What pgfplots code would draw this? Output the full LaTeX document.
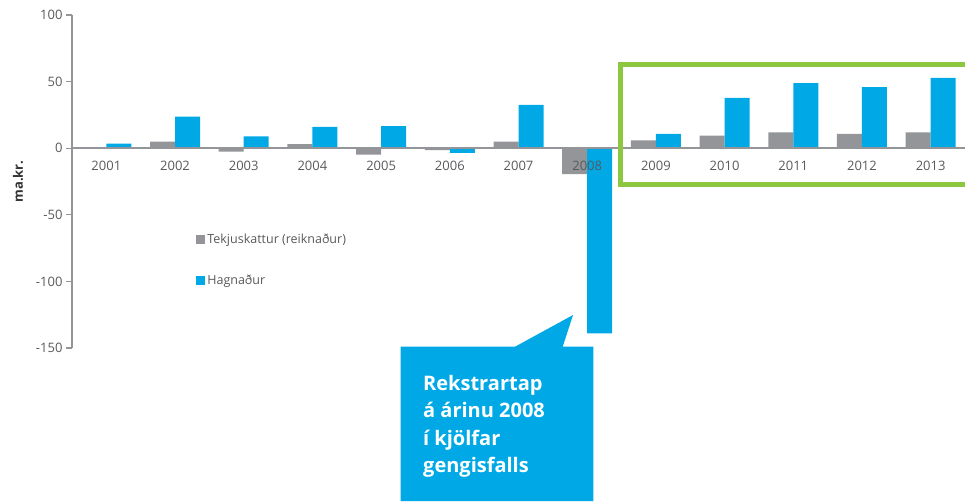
\documentclass[border=0pt]{standalone}
\usepackage{fontspec}
\setmainfont{Open Sans}
\usepackage{pgfplots}
\pgfplotsset{compat=1.18}
\definecolor{bargray}{HTML}{939598}
\definecolor{barblue}{HTML}{00A9E6}
\definecolor{boxgreen}{HTML}{8DC63F}
\definecolor{txtgray}{HTML}{58595B}

\begin{document}
\begin{tikzpicture}[x=1pt,y=1pt]
\useasboundingbox (0,0) rectangle (965,-501);
\begin{axis}[
    at={(72pt,-348pt)}, anchor=south west,
    scale only axis, width=893pt, height=333pt,
    xmin=-0.5, xmax=12.5, ymin=-150, ymax=100,
    axis on top,
    axis y line=left, axis x line=middle,
    axis line style={draw=bargray, line width=1.5pt, -},
    ytick={-150,-100,-50,0,50,100},
    xtick={0,...,12},
    xticklabels={2001,2002,2003,2004,2005,2006,2007,2008,2009,2010,2011,2012,2013},
    x tick style={draw=none},
    y tick style={draw=bargray, line width=1.2pt},
    major tick length=6pt, tick align=outside,
    hide obscured y ticks=false, hide obscured x ticks=false,
    /pgf/number format/assume math mode=true,
    ticklabel style={font=\fontsize{13}{15}\selectfont, text=txtgray},
    x tick label style={yshift=-3pt},
    ylabel={\bfseries ma.kr.},
    y label style={at={(axis description cs:-0.0605,0.5)}, anchor=center,
                   font=\fontsize{13}{15}\selectfont, text=black!80},
    ybar=0pt, bar width=25pt,
    legend style={at={(axis description cs:0.139,0.348)}, anchor=north west,
                  draw=none, fill=none, font=\fontsize{12.5}{15}\selectfont,
                  text=txtgray, row sep=26pt, inner sep=0pt},
    legend cell align=left,
]
\addplot[fill=bargray, draw=none,
    legend image code/.code={\fill[bargray] (0pt,-4.5pt) rectangle (9pt,4.5pt);}]
  coordinates {(0,0) (1,5) (2,-2.5) (3,3) (4,-4.8) (5,-1.5) (6,5)
               (7,-19.5) (8,5.8) (9,9.5) (10,11.8) (11,10.8) (12,11.8)};
\addplot[fill=barblue, draw=none,
    legend image code/.code={\fill[barblue] (0pt,-4.5pt) rectangle (9pt,4.5pt);}]
  coordinates {(0,3.5) (1,23.8) (2,8.8) (3,16) (4,16.5) (5,-3.5) (6,32.5)
               (7,-139) (8,10.8) (9,37.8) (10,48.8) (11,45.8) (12,52.8)};
\legend{Tekjuskattur (reiknaður), Hagnaður}
\end{axis}
% green frame around 2009-2013
\draw[boxgreen, line width=5pt] (968,-64) -- (620,-64) -- (620,-184) -- (968,-184);
% callout
\fill[barblue] (400.7,-346.7) -- (515,-346.7) -- (573,-315) -- (562.7,-346.7)
   -- (593.3,-346.7) -- (593.3,-501) -- (400.7,-501) -- cycle;
\begin{scope}[every node/.style={anchor=base west, inner sep=0pt, text=white,
    font=\bfseries\fontsize{20}{24}\selectfont}]
\node at (423,-390) {Rekstrartap};
\node at (423,-417.5) {á árinu 2008};
\node at (423,-445) {í kjölfar};
\node at (423,-472) {gengisfalls};
\end{scope}
\end{tikzpicture}
\end{document}
